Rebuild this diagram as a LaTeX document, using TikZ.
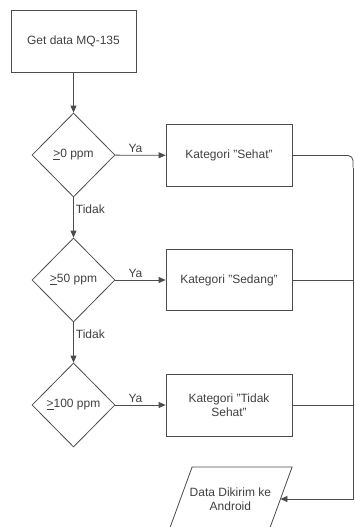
\documentclass[tikz,border=0pt]{standalone}
\usepackage{fontspec}
\setmainfont{Liberation Sans}
\usetikzlibrary{shapes.geometric,arrows.meta,positioning}
\tikzset{
  procbox/.style={rectangle,draw=black!70,line width=0.8pt,
                  minimum width=125pt,minimum height=62pt,
                  font=\fontsize{12}{14}\selectfont,align=center,
                  text=black!75,inner sep=2pt},
  decide/.style={diamond,draw=black!70,line width=0.8pt,
                 minimum width=83pt,minimum height=84pt,inner sep=0pt,
                 font=\fontsize{12}{14}\selectfont,text=black!75},
  iotext/.style={font=\fontsize{12}{14}\selectfont,align=center,
                 text=black!75,inner sep=1pt},
  arr/.style={-{Triangle[length=7pt,width=6pt]},draw=black!70,line width=0.8pt},
  lnk/.style={draw=black!70,line width=0.8pt},
  lbl/.style={font=\fontsize{12}{14}\selectfont,text=black!75,inner sep=2pt},
}
\begin{document}
\begin{tikzpicture}[x=1pt,y=1pt]
  \useasboundingbox (0,0) rectangle (354,-527);

  \node[procbox] (get) at (73.5,-41) {Get data MQ-135};
  \node[decide] (d1) at (73.5,-155) {\underline{>}0 ppm};
  \node[decide] (d2) at (73.5,-280) {\underline{>}50 ppm};
  \node[decide] (d3) at (73.5,-405) {\underline{>}100 ppm};

  \node[procbox,minimum width=126pt] (sehat) at (229,-155.5) {Kategori "Sehat"};
  \node[procbox,minimum width=126pt,minimum height=61pt] (sedang) at (229,-280)
    {Kategori "Sedang"};
  \node[procbox,minimum width=126pt] (tsehat) at (229,-405)
    {Kategori "Tidak\\Sehat"};

  % data output (parallelogram)
  \node[iotext] (kirim) at (230.4,-499) {Data Dikirim ke\\Android};
  \draw[lnk] (kirim.center) ++(-61.6,-32) -- ++(23.3,64) -- ++(100,0)
    -- ++(-23.3,-64) -- cycle;
  \coordinate (kirimR) at ([xshift=50pt]kirim.center);

  \coordinate (rail) at (353,-155.5);

  \draw[arr] (get) -- (d1);
  \draw[arr] (d1) -- node[lbl,right,pos=0.3]{Tidak} (d2);
  \draw[arr] (d2) -- node[lbl,right,pos=0.3]{Tidak} (d3);

  \draw[arr] (d1) -- node[lbl,above,pos=0.4]{Ya} (sehat);
  \draw[arr] (d2) -- node[lbl,above,pos=0.4]{Ya} (sedang);
  \draw[arr] (d3) -- node[lbl,above,pos=0.4]{Ya} (tsehat);

  \draw[lnk,rounded corners=5pt] (sehat.east) -- (rail) -- ([yshift=-12pt]rail);
  \draw[arr] ([yshift=-12pt]rail) |- (kirimR);
  \draw[lnk] (sedang.east) -- (sedang.east -| rail);
  \draw[lnk] (tsehat.east) -- (tsehat.east -| rail);
\end{tikzpicture}
\end{document}
